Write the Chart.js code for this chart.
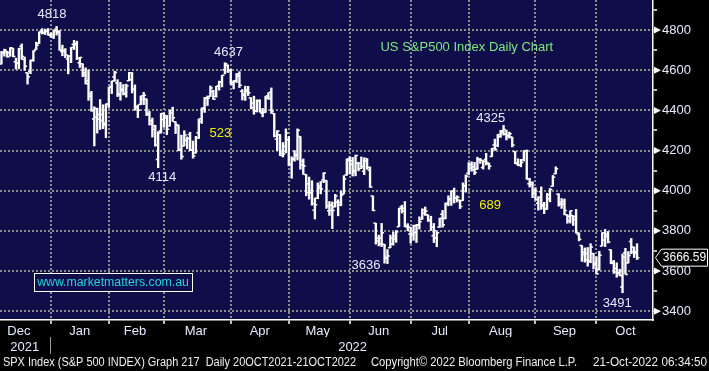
<!DOCTYPE html>
<html><head><meta charset="utf-8">
<script src="https://cdn.jsdelivr.net/npm/chart.js@4.4.1/dist/chart.umd.min.js"></script>
<style>html,body{margin:0;padding:0;background:#000;overflow:hidden;}canvas{display:block;}</style>
</head><body>
<canvas id="chart" width="709" height="371"></canvas>
<script>
// ---- trading days shown (category axis) ----
const monthDays = [
  ['2021-12', [7,8,9,10,13,14,15,16,17,20,21,22,23,27,28,29,30,31]],
  ['2022-01', [3,4,5,6,7,10,11,12,13,14,18,19,20,21,24,25,26,27,28,31]],
  ['2022-02', [1,2,3,4,7,8,9,10,11,14,15,16,17,18,22,23,24,25,28]],
  ['2022-03', [1,2,3,4,7,8,9,10,11,14,15,16,17,18,21,22,23,24,25,28,29,30,31]],
  ['2022-04', [1,4,5,6,7,8,11,12,13,14,18,19,20,21,22,25,26,27,28,29]],
  ['2022-05', [2,3,4,5,6,9,10,11,12,13,16,17,18,19,20,23,24,25,26,27,31]],
  ['2022-06', [1,2,3,6,7,8,9,10,13,14,15,16,17,21,22,23,24,27,28,29,30]],
  ['2022-07', [1,5,6,7,8,11,12,13,14,15,18,19,20,21,22,25,26,27,28,29]],
  ['2022-08', [1,2,3,4,5,8,9,10,11,12,15,16,17,18,19,22,23,24,25,26,29,30,31]],
  ['2022-09', [1,2,6,7,8,9,12,13,14,15,16,19,20,21,22,23,26,27,28,29,30]],
  ['2022-10', [3,4,5,6,7,10,11,12,13,14,17,18,19,20]]
];
const emptySlots = 5;

// ---- OHLC values ----
const opens = [
 4631,4690,4691,4687,4710,4642,4637,4719,4653,4588,4594,4650,4703,4733,4795,4789,4795,4775,
 4778,4804,4788,4694,4698,4656,4670,4728,4733,4637,4632,4588,4547,4471,4357,4366,4380,4380,4336,4432,
 4519,4567,4536,4482,4505,4480,4548,4553,4506,4413,4429,4455,4457,4385,4332,4324,4155,4298,4354,
 4364,4322,4401,4343,4327,4203,4223,4252,4280,4202,4188,4289,4345,4407,4462,4469,4494,4470,4522,4541,4602,4624,4599,
 4540,4547,4572,4495,4475,4494,4462,4437,4397,4449,4386,4390,4473,4490,4385,4256,4279,4187,4222,4254,
 4130,4159,4181,4270,4129,4081,4035,3990,3903,3963,4013,4053,4051,3900,3927,3920,3943,3929,3984,4078,4151,
 4149,4095,4137,4135,4097,4148,4102,3974,3838,3763,3764,3733,3665,3716,3734,3774,3821,3920,3913,3825,3785,
 3781,3792,3831,3858,3888,3880,3851,3776,3764,3819,3883,3861,3935,3955,4000,3965,3953,3951,4026,4087,
 4113,4105,4107,4154,4116,4156,4134,4170,4228,4225,4269,4290,4281,4273,4267,4195,4133,4127,4154,4199,4035,4041,4000,
 3937,3995,3930,3909,3960,4022,4084,3983,3941,3932,3880,3849,3876,3871,3782,3727,3682,3687,3651,3687,3633,
 3609,3725,3753,3772,3706,3645,3595,3591,3521,3691,3640,3747,3695,3689
];
const highs = [
 4694,4705,4695,4713,4710,4660,4709,4731,4666,4588,4651,4697,4740,4791,4807,4805,4808,4787,
 4797,4818.6,4798,4725,4708,4674,4714,4749,4745,4665,4632,4612,4602,4495,4418,4411,4454,4428,4432,4516,
 4546,4595,4553,4540,4529,4531,4590,4589,4527,4427,4472,4490,4457,4395,4362,4326,4294,4385,4388,
 4375,4401,4416,4343,4327,4277,4299,4268,4291,4248,4271,4357,4412,4465,4472,4522,4501,4520,4546,4575,4637.3,4627,4604,
 4549,4583,4593,4504,4521,4520,4464,4471,4453,4453,4410,4471,4489,4512,4385,4299,4280,4240,4308,4270,
 4169,4200,4308,4270,4158,4081,4068,4050,3964,4039,4046,4089,4051,3946,3944,3982,3955,3999,4075,4158,4169,
 4166,4177,4142,4168,4164,4160,4119,3974,3838,3779,3837,3733,3707,3779,3794,3802,3913,3928,3946,3836,3818,
 3829,3832,3870,3910,3919,3880,3873,3837,3796,3863,3902,3939,3975,3999,4013,3975,3953,4039,4079,4140,
 4144,4141,4167,4161,4151,4186,4138,4211,4257,4280,4301,4325.3,4302,4292,4267,4195,4159,4156,4200,4203,4062,4044,4015,
 3970,4019,3942,3987,4011,4076,4119,3985,3961,3959,3880,3900,3876,3907,3790,3727,3715,3717,3736,3688,3671,
 3698,3791,3807,3797,3706,3653,3641,3609,3685,3713,3697,3762,3720,3736
];
const lows = [
 4631,4670,4665,4670,4667,4606,4607,4654,4600,4531,4583,4645,4703,4733,4781,4778,4775,4765,
 4758,4775,4700,4672,4663,4582,4638,4703,4653,4614,4568,4532,4450,4396,4223,4287,4305,4309,4264,4415,
 4484,4545,4469,4451,4477,4466,4548,4487,4401,4364,4429,4429,4374,4327,4267,4222,4114.6,4287,4316,
 4279,4322,4345,4285,4199,4157,4223,4209,4200,4162,4187,4260,4335,4390,4424,4469,4455,4466,4501,4517,4582,4589,4530,
 4507,4539,4514,4452,4450,4474,4408,4381,4392,4392,4368,4390,4455,4385,4268,4200,4175,4168,4189,4124,
 4062,4147,4153,4107,4081,3975,3958,3928,3859,3960,3984,4040,3912,3877,3811,3919,3875,3925,3984,4077,4083,
 4073,4074,4099,4110,4080,4107,4017,3900,3734,3725,3722,3639,3636.9,3716,3729,3743,3821,3889,3820,3800,3738,
 3753,3742,3809,3858,3877,3847,3802,3742,3721,3817,3818,3860,3925,3927,3939,3944,3911,3951,3993,4079,
 4097,4080,4107,4136,4108,4128,4107,4170,4201,4219,4266,4277,4253,4262,4218,4135,4124,4119,4148,4057,4018,3965,3954,
 3903,3907,3886,3907,3945,4022,4084,3923,3912,3880,3838,3839,3827,3789,3750,3648,3644,3624,3641,3610,3584,
 3604,3725,3722,3740,3636,3588,3569,3577,3491.6,3584,3640,3686,3667,3657
];
const closes = [
 4686,4701,4667,4712,4668,4634,4709,4668,4620,4568,4649,4697,4725,4791,4786,4793,4778,4766,
 4797,4793,4701,4696,4677,4670,4713,4726,4660,4663,4577,4533,4483,4398,4410,4357,4350,4327,4432,4516,
 4546,4589,4478,4501,4484,4521,4587,4504,4419,4401,4472,4475,4380,4349,4305,4226,4288,4385,4374,
 4306,4387,4364,4329,4201,4171,4278,4260,4204,4173,4262,4358,4412,4463,4461,4512,4456,4520,4543,4575,4632,4602,4530,
 4546,4583,4525,4481,4500,4488,4413,4397,4447,4392,4391,4462,4459,4394,4272,4297,4175,4183,4288,4132,
 4155,4175,4301,4147,4123,3991,4001,3935,3930,4024,4008,4088,3924,3901,3901,3974,3941,3979,4058,4158,4132,
 4101,4176,4109,4121,4161,4116,4018,3901,3750,3735,3790,3667,3675,3765,3760,3796,3912,3900,3821,3819,3785,
 3825,3831,3845,3903,3899,3854,3819,3801,3790,3863,3831,3937,3960,3999,3962,3967,3921,4024,4072,4130,
 4119,4091,4155,4152,4145,4140,4122,4210,4207,4280,4297,4305,4275,4284,4228,4138,4128,4141,4199,4058,4031,3986,3955,
 3967,3924,3909,3980,4006,4067,4110,3933,3946,3901,3873,3900,3856,3790,3758,3693,3655,3647,3720,3640,3586,
 3678,3791,3783,3745,3640,3612,3589,3577,3669,3583,3677,3720,3696,3666.59
];

// ---- tick labels ----
const yTickValues = [3400,3500,3600,3700,3800,3900,4000,4100,4200,4300,4400,4500,4600,4700,4800,4900];
const yLabelStep = 200;
const monthTickLabels = ['Dec','Jan','Feb','Mar','Apr','May','Jun','Jul','Aug','Sep','Oct'];
const monthTickDates = ['2021-12-15','2022-01-14','2022-02-11','2022-03-15','2022-04-14','2022-05-13','2022-06-14','2022-07-15','2022-08-15','2022-09-15','2022-10-14'];
const yearTickLabels = ['2021','2022'];
const yearTickDates = ['2021-12-17','2022-06-01'];

// ---- annotation texts ----
const noteTexts = ['4818','4637','4114','523','3636','4325','689','3491'];
const noteYellow = [false,false,false,true,false,false,true,false];
const noteAnchorIdx = [17.4, 78.2, 55.4, 75.4, 125.6, 168.6, 168.4, 212.2];
const noteAnchorVal = [4880, 4688, 4066, 4286, 3628, 4360, 3927, 3440];
const chartTitle = 'US S&P500 Index Daily Chart';
const siteText = 'www.marketmatters.com.au';
const footerTexts = ['SPX Index (S&P 500 INDEX) Graph 217  Daily 20OCT2021-21OCT2022', 'Copyright\u00A9 2022 Bloomberg Finance L.P.', '21-Oct-2022 06:34:50'];

// ---- build ----
const dates = [];
monthDays.forEach(([m, days]) => days.forEach(d => dates.push(m + '-' + String(d).padStart(2, '0'))));
const labels = dates.concat(Array(emptySlots).fill(''));
const monthEnds = new Set();
for (let i = 0; i < dates.length - 1; i++) if (dates[i].slice(0,7) !== dates[i+1].slice(0,7)) monthEnds.add(i);
let yearSplit = -1;
for (let i = 0; i < dates.length - 1; i++) if (dates[i].slice(0,4) !== dates[i+1].slice(0,4)) { yearSplit = i; break; }
const monthTickMap = {}; monthTickDates.forEach((d,k) => monthTickMap[dates.indexOf(d)] = monthTickLabels[k]);
const yearTickMap = {}; yearTickDates.forEach((d,k) => yearTickMap[dates.indexOf(d)] = yearTickLabels[k]);

const NAVY = '#0f0e4b', GRID = '#8c8c8c', TXT = '#e4eaff', CLEAR = 'rgba(0,0,0,0)';
const FONT = "'Liberation Sans', Arial, sans-serif";
Chart.defaults.font.family = FONT;

const bgPlugin = {
  id: 'bg',
  beforeDraw(chart) {
    const {ctx, chartArea: a, width, height} = chart;
    ctx.save();
    ctx.fillStyle = '#000'; ctx.fillRect(0, 0, width, height);
    ctx.fillStyle = NAVY; ctx.fillRect(a.left, a.top, a.right - a.left, a.bottom - a.top);
    ctx.restore();
  }
};

const overlayPlugin = {
  id: 'overlay',
  afterDraw(chart) {
    const {ctx, chartArea: a, width, height} = chart;
    const xs = chart.scales.x, ys = chart.scales.y;
    ctx.save();
    ctx.textBaseline = 'middle';
    // annotations
    ctx.font = '13px ' + FONT; ctx.textAlign = 'center';
    noteTexts.forEach((t, k) => {
      ctx.fillStyle = noteYellow[k] ? '#f0f000' : TXT;
      ctx.fillText(t, xs.getPixelForValue(noteAnchorIdx[k]), ys.getPixelForValue(noteAnchorVal[k]));
    });
    // title
    ctx.textAlign = 'left'; ctx.fillStyle = '#80e680';
    ctx.fillText(chartTitle, xs.getPixelForValue(130.6), ys.getPixelForValue(4713));
    // website box
    ctx.font = '12.3px ' + FONT;
    const tw = ctx.measureText(siteText).width;
    const sx = xs.getPixelForValue(12.3), sy = ys.getPixelForValue(3544);
    ctx.fillStyle = NAVY; ctx.fillRect(sx - 3, sy - 9, tw + 6, 18);
    ctx.strokeStyle = '#fff'; ctx.lineWidth = 1;
    ctx.strokeRect(Math.round(sx - 3) + 0.5, Math.round(sy - 9) + 0.5, Math.round(tw + 6), 18);
    ctx.fillStyle = '#26d2de'; ctx.fillText(siteText, sx, sy);
    // major tick markers
    ctx.fillStyle = '#fff';
    yTickValues.filter(v => v % yLabelStep === 0).forEach(v => {
      const py = ys.getPixelForValue(v);
      ctx.beginPath(); ctx.moveTo(a.right + 1, py - 3.5); ctx.lineTo(a.right + 8, py); ctx.lineTo(a.right + 1, py + 3.5); ctx.closePath(); ctx.fill();
    });
    // last price tag
    const last = closes[closes.length - 1];
    const py = ys.getPixelForValue(last);
    const x0 = a.right + 2.5, x1 = a.right + 8.5, x2 = width - 1.5;
    ctx.beginPath();
    ctx.moveTo(x0, py); ctx.lineTo(x1, py - 8.5); ctx.lineTo(x2, py - 8.5); ctx.lineTo(x2, py + 8.5); ctx.lineTo(x1, py + 8.5); ctx.closePath();
    ctx.fillStyle = '#000'; ctx.fill(); ctx.strokeStyle = '#fff'; ctx.lineWidth = 1; ctx.stroke();
    ctx.font = '12px ' + FONT; ctx.textAlign = 'center'; ctx.fillStyle = '#fff';
    ctx.fillText(last.toFixed(2), (x1 + x2) / 2, py + 0.5);
    // footer
    ctx.font = '12px ' + FONT; ctx.textAlign = 'left'; ctx.fillStyle = '#f0f0f0';
    const spans = [[3, 356], [371, 577], [593, 707]];
    footerTexts.forEach((t, k) => {
      const w = ctx.measureText(t).width;
      ctx.save(); ctx.translate(spans[k][0], height - 8); ctx.scale((spans[k][1] - spans[k][0]) / w, 1);
      ctx.fillText(t, 0, 0); ctx.restore();
    });
    ctx.restore();
  }
};

new Chart(document.getElementById('chart'), {
  type: 'bar',
  data: {
    labels,
    datasets: [
      { type: 'bar', data: lows.map((l, i) => [l, highs[i]]), backgroundColor: '#ffffff', borderWidth: 0, barThickness: 1.7, order: 3 },
      { type: 'line', data: opens, showLine: false, pointStyle: 'dash', pointRotation: 180, pointRadius: 2.4, pointBorderWidth: 1.5, pointBorderColor: '#fff', pointBackgroundColor: '#fff', order: 2 },
      { type: 'line', data: closes, showLine: false, pointStyle: 'dash', pointRotation: 0, pointRadius: 2.4, pointBorderWidth: 1.5, pointBorderColor: '#fff', pointBackgroundColor: '#fff', order: 1 }
    ]
  },
  options: {
    responsive: false, animation: false, devicePixelRatio: 1, events: [],
    layout: { autoPadding: false, padding: { left: 0, right: 0, top: 0, bottom: 15 } },
    plugins: { legend: { display: false }, tooltip: { enabled: false }, title: { display: false } },
    scales: {
      x: {
        type: 'category', position: 'bottom', offset: true, weight: 0,
        grid: { offset: false, lineWidth: 2, drawTicks: true, tickLength: 4, tickWidth: 1.5,
          color: c => monthEnds.has(c.index) ? GRID : CLEAR,
          tickColor: c => monthEnds.has(c.index) ? '#fff' : CLEAR },
        border: { display: true, color: '#fff', width: 1.5, dash: [2, 2] },
        ticks: { autoSkip: false, maxRotation: 0, minRotation: 0, padding: 0, color: TXT, font: { size: 13 },
          callback: (v, i) => monthTickMap[i] || '' },
        afterFit: s => { s.height = 17; s.paddingLeft = 0; s.paddingRight = 0; }
      },
      x2: {
        type: 'category', position: 'bottom', offset: true, weight: 1,
        grid: { display: true, drawOnChartArea: false, offset: false, drawTicks: true, tickLength: 17, tickWidth: 1,
          color: CLEAR, tickColor: c => c.index === yearSplit ? '#9a9a9a' : CLEAR },
        border: { display: false },
        ticks: { autoSkip: false, maxRotation: 0, minRotation: 0, padding: -14, color: TXT, font: { size: 13 },
          callback: (v, i) => yearTickMap[i] || '' },
        afterFit: s => { s.height = 19; s.paddingLeft = 0; s.paddingRight = 0; }
      },
      y: {
        type: 'linear', position: 'right', min: 3356, max: 4950,
        afterBuildTicks: s => { s.ticks = yTickValues.map(v => ({ value: v })); },
        grid: { lineWidth: 2, drawTicks: true, tickLength: 4, tickWidth: 1.5, tickColor: '#fff',
          color: c => (c.tick && c.tick.value % yLabelStep === 0) ? GRID : CLEAR },
        border: { display: true, color: '#fff', width: 1.5, dash: [2, 2] },
        ticks: { padding: 5, color: TXT, font: { size: 13 },
          callback: v => (v % yLabelStep === 0 ? String(v) : '') },
        afterFit: s => { s.width = 56; s.paddingTop = 0; s.paddingBottom = 0; }
      }
    }
  },
  plugins: [bgPlugin, overlayPlugin]
});
</script>
</body></html>
